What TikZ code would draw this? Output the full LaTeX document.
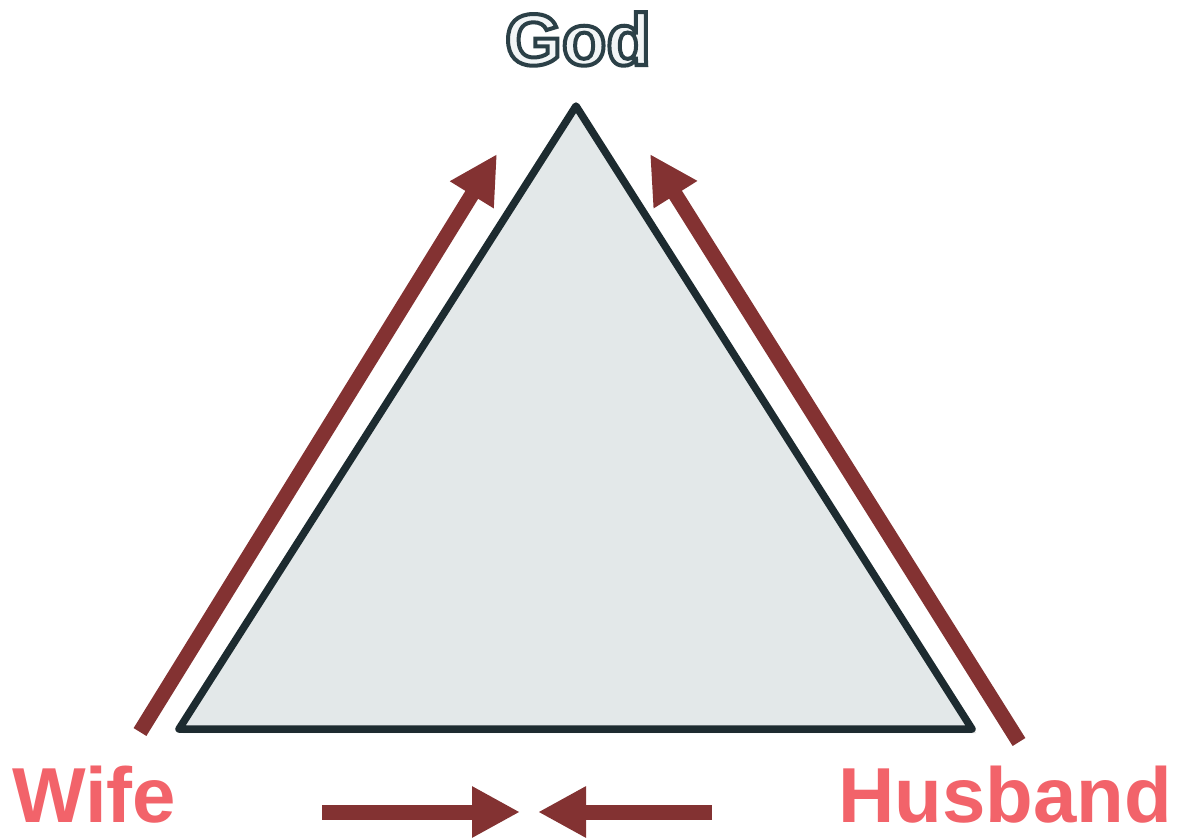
\documentclass[tikz,border=0pt]{standalone}
\usepackage{fontspec}
\setsansfont{Liberation Sans}[BoldFont={Liberation Sans Bold}]
\usetikzlibrary{arrows.meta,shadows}
\definecolor{arrowred}{HTML}{833232}
\definecolor{trifill}{HTML}{E3E8E9}
\definecolor{triline}{HTML}{1D2B30}
\definecolor{namered}{HTML}{F2636A}
\definecolor{godfill}{HTML}{F2F5F6}
\newcommand{\outlinetext}[3]{\special{pdf:literal direct 2 Tr #1 w #2 RG}#3\special{pdf:literal direct 0 Tr}}
\begin{document}
\begin{tikzpicture}[x=1pt, y=-1pt,
        tri/.style={draw=triline, line width=7.5pt, line join=round, fill=trifill,
                    drop shadow={shadow xshift=4pt, shadow yshift=-4pt, opacity=0.25}},
        bigarrow/.style={draw=arrowred, line width=15pt, line cap=butt,
                         -{Triangle[length=48pt, width=48pt]}},
        partnerlabel/.style={font=\sffamily\bfseries\fontsize{78}{80}\selectfont,
                     text=namered, inner sep=0pt, anchor=base west},
    ]
    \useasboundingbox (0,0) rectangle (1178,838);

    \coordinate (apex) at (576,106);
    \coordinate (wifecorner) at (179,729);
    \coordinate (husbandcorner) at (972,729);
    \draw[tri] (apex) -- (wifecorner) -- (husbandcorner) -- cycle;

    \node[font=\sffamily\bfseries\fontsize{73}{76}\selectfont, text=godfill,
          inner sep=0pt, anchor=base] (god) at (578,65)
        {\outlinetext{4}{0.17 0.25 0.28}{God}};
    \node[partnerlabel] (wife) at (12,822) {Wife};
    \node[partnerlabel] (husband) at (838,822) {Husband};

    \coordinate (wifefoot) at (140,732);
    \coordinate (wifetip) at (497,154);
    \coordinate (husbandfoot) at (1019,742);
    \coordinate (husbandtip) at (650,154);
    \draw[bigarrow] (wifefoot) -- (wifetip);
    \draw[bigarrow] (husbandfoot) -- (husbandtip);

    \coordinate (wifestart) at (322,812);
    \coordinate (meetleft) at (520,812);
    \coordinate (husbandstart) at (712,812);
    \coordinate (meetright) at (538,812);
    \draw[bigarrow] (wifestart) -- (meetleft);
    \draw[bigarrow] (husbandstart) -- (meetright);
\end{tikzpicture}
\end{document}
